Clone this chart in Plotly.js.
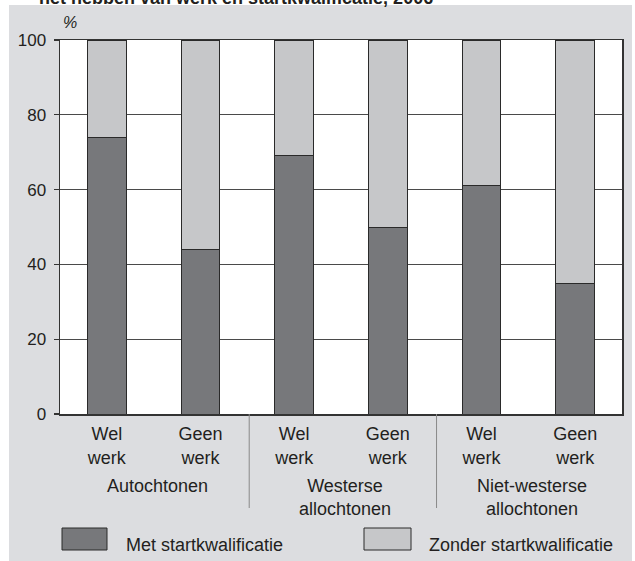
<!DOCTYPE html>
<html>
<head>
<meta charset="utf-8">
<script src="https://cdn.plot.ly/plotly-3.0.1.min.js"></script>
<style>
  html, body { margin: 0; padding: 0; background: #ffffff; }
  #chart { width: 635px; height: 561px; }
</style>
</head>
<body>
<div id="chart"></div>
<script>
// ---- data ----
const groups = ["Autochtonen", "Westerse<br>allochtonen", "Niet-westerse<br>allochtonen"];
const subCategories = ["Wel<br>werk", "Geen<br>werk"];
const metStart = [74, 44, 69, 50, 61, 35];
const zonderStart = [26, 56, 31, 50, 39, 65];
const seriesNames = ["Met startkwalificatie", "Zonder startkwalificatie"];
const yTicks = [0, 20, 40, 60, 80, 100];
const chartTitle = "het hebben van werk en startkwalificatie, 2006";
const unitLabel = "%";

// ---- styling ----
const FONT = "Liberation Sans, Arial, Helvetica, sans-serif";
const TXT = "#231f20";
const DARK = "#77787b";
const LIGHT = "#c6c7c9";
const PANEL = "#dcdde0";
const LINE = "#333333";
const GRID = "#4a4a4a";

const W = 635, H = 561;
const M = { l: 60, r: 13, t: 40, b: 147 };
const PW = W - M.l - M.r, PH = H - M.t - M.b;
const px = v => (v - M.l) / PW;          // pixel x -> paper x
const py = v => (H - M.b - v) / PH;      // pixel y -> paper y

// category keys (unique) and their tick labels
const keys = [], tickLabels = [];
groups.forEach((g, gi) => subCategories.forEach((s, si) => {
  keys.push(g.replace("<br>", " ") + " | " + s.replace("<br>", " "));
  tickLabels.push(s);
}));
const perGroup = subCategories.length;

const traces = [
  { type: "bar", name: seriesNames[0], x: keys, y: metStart,
    marker: { color: DARK, line: { color: "#2a2a2a", width: 1 } }, showlegend: false, hoverinfo: "none" },
  { type: "bar", name: seriesNames[1], x: keys, y: zonderStart,
    marker: { color: LIGHT, line: { color: "#2a2a2a", width: 1 } }, showlegend: false, hoverinfo: "none" }
];

const shapes = [
  { type: "rect", xref: "paper", yref: "paper", layer: "below",
    x0: px(9), x1: px(632), y0: py(5), y1: py(575), fillcolor: PANEL, line: { width: 0 } },
  { type: "rect", xref: "paper", yref: "paper", layer: "below",
    x0: 0, x1: 1, y0: 0, y1: 1, fillcolor: "#ffffff", line: { width: 0 } },
  // legend swatches
  { type: "rect", xref: "paper", yref: "paper",
    x0: px(62), x1: px(107), y0: py(550), y1: py(528), fillcolor: DARK, line: { color: "#2a2a2a", width: 1 } },
  { type: "rect", xref: "paper", yref: "paper",
    x0: px(364), x1: px(411), y0: py(550), y1: py(528), fillcolor: LIGHT, line: { color: "#2a2a2a", width: 1 } }
];
// group dividers between groups
for (let gi = 1; gi < groups.length; gi++) {
  const xb = gi * perGroup - 0.5;
  shapes.push({ type: "line", xref: "x", yref: "paper", x0: xb + 0.02, x1: xb + 0.02, y0: py(414), y1: py(508),
    line: { color: "#8a8a8a", width: 1 } });
}

const annotations = [
  { text: "<b>" + chartTitle + "</b>", xref: "paper", yref: "paper", x: px(37), y: py(-2.3),
    xanchor: "left", yanchor: "middle", showarrow: false, font: { family: FONT, size: 18, color: TXT } },
  { text: unitLabel, xref: "paper", yref: "paper", x: px(69.5), y: py(22.4),
    xanchor: "center", yanchor: "middle", showarrow: false, font: { family: FONT, size: 16, color: TXT, style: "italic" } },
  { text: seriesNames[0], xref: "paper", yref: "paper", x: px(124), y: py(544.7),
    xanchor: "left", yanchor: "middle", showarrow: false, font: { family: FONT, size: 18, color: TXT } },
  { text: seriesNames[1], xref: "paper", yref: "paper", x: px(427), y: py(544.7),
    xanchor: "left", yanchor: "middle", showarrow: false, font: { family: FONT, size: 18, color: TXT } }
];
// group labels centred under each pair of bars
groups.forEach((g, gi) => {
  annotations.push({ text: g, xref: "x", yref: "paper", x: gi * perGroup + (perGroup - 1) / 2 + 0.04,
    y: py(474), xanchor: "center", yanchor: "top", showarrow: false,
    font: { family: FONT, size: 18, color: TXT } });
});

const layout = {
  width: W, height: H,
  margin: M,
  paper_bgcolor: "#ffffff",
  plot_bgcolor: "rgba(0,0,0,0)",
  barmode: "stack",
  bargap: 0.589,
  showlegend: false,
  font: { family: FONT, size: 18, color: TXT },
  xaxis: {
    type: "category",
    tickvals: keys, ticktext: tickLabels,
    showline: true, mirror: true, linecolor: LINE, linewidth: 1.5,
    ticks: "", showgrid: false, zeroline: false,
    tickfont: { family: FONT, size: 18, color: TXT },
    ticklabelstandoff: 3
  },
  yaxis: {
    range: [0, 100], tickvals: yTicks, ticktext: yTicks.map(String),
    showline: true, mirror: true, linecolor: LINE, linewidth: 1.5,
    ticks: "outside", ticklen: 5, tickcolor: LINE, tickwidth: 1.2,
    showgrid: true, gridcolor: GRID, gridwidth: 1.2,
    zeroline: false,
    tickfont: { family: FONT, size: 17, color: TXT },
    ticklabelstandoff: 4
  },
  shapes: shapes,
  annotations: annotations
};

Plotly.newPlot("chart", traces, layout, { displayModeBar: false, staticPlot: true });
</script>
</body>
</html>
